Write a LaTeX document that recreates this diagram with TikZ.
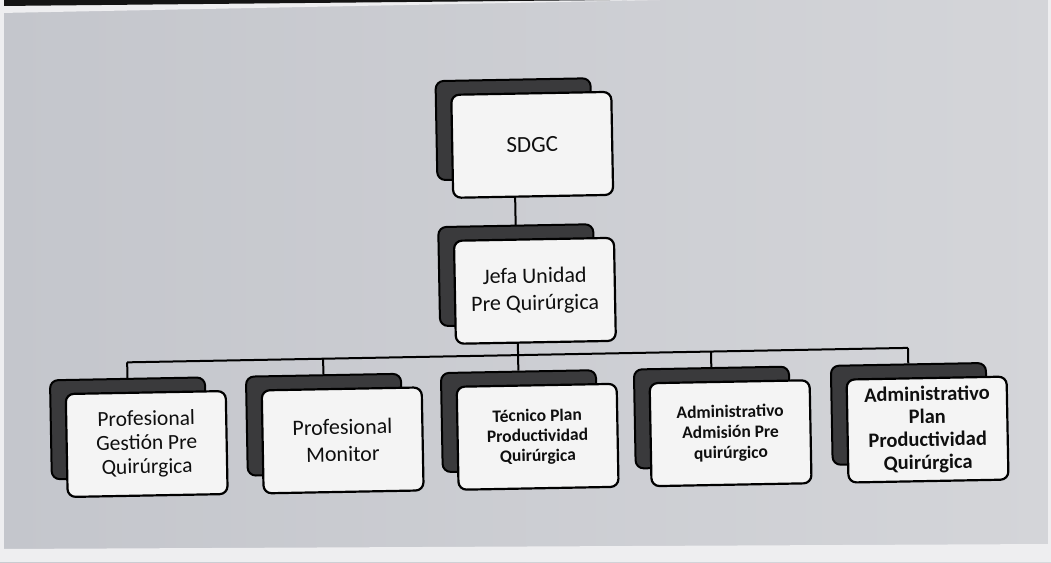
\documentclass[tikz,border=0pt]{standalone}
\usepackage{fontspec}
\setmainfont{Carlito}
\pgfdeclarelayer{bg}
\pgfdeclarelayer{lines}
\pgfsetlayers{bg,lines,main}
\definecolor{paperL}{RGB}{196,198,204}
\definecolor{paperR}{RGB}{212,213,217}
\definecolor{darkbox}{RGB}{58,58,60}
\definecolor{boxfill}{RGB}{244,244,244}
\definecolor{txt}{RGB}{15,15,15}
\definecolor{band}{RGB}{20,20,20}
\definecolor{edge}{RGB}{238,238,240}
\begin{document}
\begin{tikzpicture}[x=1pt,y=-1pt,
  backbox/.style={draw=black, line width=2pt, fill=darkbox, rounded corners=8pt,
    minimum width=155pt, minimum height=99pt, inner sep=0pt},
  frontbox/.style={draw=black, line width=2.2pt, fill=boxfill, rounded corners=8pt,
    minimum width=160pt, minimum height=103pt, inner sep=0pt, align=center, text=txt},
  link/.style={draw=black, line width=2pt},
  fa/.style={font=\fontsize{23}{27}\selectfont},
  fb/.style={font=\fontsize{22}{27}\selectfont},
  fc/.style={font=\fontsize{21.5}{24}\selectfont},
  fd/.style={font=\bfseries\fontsize{17.5}{20}\selectfont},
  fe/.style={font=\bfseries\fontsize{17.5}{20.5}\selectfont},
  ff/.style={font=\bfseries\fontsize{20.5}{22.8}\selectfont}]
\useasboundingbox (0,0) rectangle (1051,562);
\begin{pgfonlayer}{bg}
  \shade[left color=paperL, right color=paperR] (0,0) rectangle (1051,562);
  \fill[edge] (0,5) -- (660,0) -- (0,13) -- cycle;
  \fill[band] (0,0) -- (610,0) -- (0,6) -- cycle;
  \fill[edge] (0,0) rectangle (4,562);
  \fill[edge] (1048,0) rectangle (1051,562);
  \fill[edge] (0,549) -- (1051,544) -- (1051,562) -- (0,562) -- cycle;
\end{pgfonlayer}
\begin{scope}[rotate around={1.06:(525,350)}, transform shape]
  % top
  \node[backbox] (sdgcB) at (518,129) {};
  \node[frontbox, fa] (sdgc) at (536,145) {SDGC};
  \node[backbox] (jefaB) at (518,275) {};
  \node[frontbox, fb] (jefa) at (536,291) {Jefa Unidad\\Pre Quirúrgica};
  % bottom row
  \node[backbox] (c1B) at (127,421) {};
  \node[frontbox, fc] (c1) at (145,437) {Profesional\\Gestión Pre\\Quirúrgica};
  \node[backbox] (c2B) at (323,421) {};
  \node[frontbox, fb] (c2) at (341,437) {Profesional\\Monitor};
  \node[backbox] (c3B) at (518,421) {};
  \node[frontbox, fd] (c3) at (536,437) {Técnico Plan\\Productividad\\Quirúrgica};
  \node[backbox] (c4B) at (711,421) {};
  \node[frontbox, fe] (c4) at (729,437) {Administrativo\\Admisión Pre\\quirúrgico};
  \node[backbox] (c5B) at (908,421) {};
  \node[frontbox, ff] (c5) at (926,437) {Administrativo\\Plan\\Productividad\\Quirúrgica};
  \coordinate (bus) at (518,355);
  \begin{pgfonlayer}{lines}
    \draw[link] (sdgcB.center) -- (jefaB.center);
    \draw[link] (jefaB.center) -- (bus);
    \draw[link] (c1B.north |- bus) -- (c5B.north |- bus);
    \foreach \c in {c1B,c2B,c3B,c4B,c5B}
      \draw[link] (\c.north |- bus) -- (\c.north);
  \end{pgfonlayer}
\end{scope}
\end{tikzpicture}
\end{document}
